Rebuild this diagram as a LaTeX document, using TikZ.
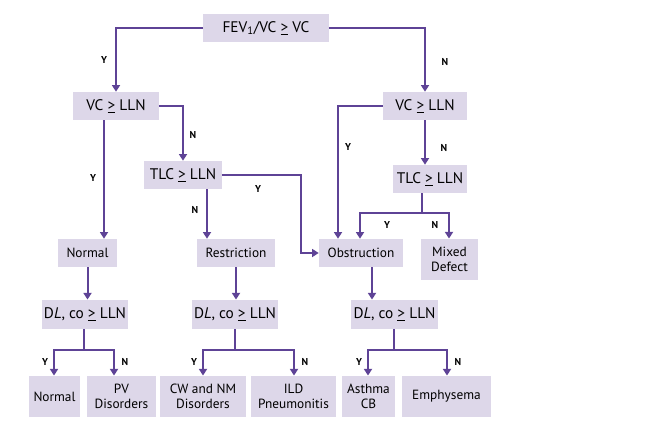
\documentclass[tikz,border=0pt]{standalone}
\usepackage{fontspec}
\setmainfont{PT Sans}
\usetikzlibrary{arrows.meta}
\definecolor{boxc}{HTML}{DDD7E9}
\definecolor{linec}{HTML}{5E4396}
\newcommand{\geu}{\underline{>}}
\begin{document}
\begin{tikzpicture}[x=0.75pt,y=-0.75pt,
  box/.style={fill=boxc,inner sep=1pt,align=center,font=\fontsize{10}{11}\selectfont},
  big/.style={box,font=\fontsize{11.5}{12}\selectfont},
  ln/.style={draw=linec,line width=1.5pt},
  ar/.style={ln,-{Triangle[length=5pt,width=6pt]}},
  lb/.style={font=\bfseries\fontsize{7.5}{8}\selectfont}]
\useasboundingbox (0,0) rectangle (656,442);
\node[big,minimum width=94pt,minimum height=21pt] (fev) at (266,28) {FEV\textsubscript{1}/VC \geu{} VC};
\node[big,minimum width=64pt,minimum height=21pt] (vcl) at (116,106) {VC \geu{} LLN};
\node[big,minimum width=58pt,minimum height=21pt] (tlcl) at (183,175) {TLC \geu{} LLN};
\node[big,minimum width=63pt,minimum height=21pt] (vcr) at (425,106) {VC \geu{} LLN};
\node[big,minimum width=56pt,minimum height=21pt] (tlcr) at (430,179) {TLC \geu{} LLN};
\node[box,minimum width=44pt,minimum height=21pt] (norm) at (87.5,253) {Normal};
\node[box,minimum width=58pt,minimum height=21pt] (res) at (236,253) {Restriction};
\node[box,minimum width=63pt,minimum height=21pt] (obs) at (361,253) {Obstruction};
\node[box,minimum width=43pt,minimum height=31pt] (mix) at (449.5,259.5) {Mixed\\Defect};
\node[big,minimum width=64pt,minimum height=22pt] (dl1) at (85,314.5) {D\textit{L}, co \geu{} LLN};
\node[big,minimum width=64pt,minimum height=22pt] (dl2) at (235,314.5) {D\textit{L}, co \geu{} LLN};
\node[big,minimum width=65pt,minimum height=22pt] (dl3) at (394.5,314.5) {D\textit{L}, co \geu{} LLN};
\node[box,minimum width=38pt,minimum height=31pt] (b1) at (54.5,396.5) {Normal};
\node[box,minimum width=52pt,minimum height=31pt] (b2) at (121.5,396.5) {PV\\Disorders};
\node[box,minimum width=64pt,minimum height=31pt] (b3) at (203,396.5) {CW and NM\\Disorders};
\node[box,minimum width=64pt,minimum height=31pt] (b4) at (293.5,396.5) {ILD\\Pneumonitis};
\node[box,minimum width=40pt,minimum height=31pt] (b5) at (368.5,396.5) {Asthma\\CB};
\node[box,minimum width=67pt,minimum height=31pt] (b6) at (446.5,396.5) {Emphysema};
% helper x-positions
\coordinate (x104) at (104,0);
\coordinate (x207) at (207,0);
\coordinate (x338) at (338,0);
\coordinate (x360) at (360,0);
\coordinate (x449) at (449,0);
\coordinate (x372) at (372,0);
% top
\draw[ar] (fev.west) -| (vcl.north);
\draw[ar] (fev.east) -| (vcr.north);
\node[lb] at (104,60) {Y};
\node[lb] at (445,62) {N};
% left VC
\draw[ar] (vcl.east) -| (tlcl.north);
\node[lb] at (193,135) {N};
\draw[ar] (vcl.south -| x104) -- (norm.north -| x104);
\node[lb] at (93,178) {Y};
% left TLC
\coordinate (t) at (301,253);
\draw[ar] (tlcl.east) -| (t) -- (obs.west);
\node[lb] at (258,189) {Y};
\draw[ar] (tlcl.south -| x207) -- (res.north -| x207);
\node[lb] at (195,210) {N};
% right VC
\draw[ar] (vcr.west) -| (obs.north -| x338);
\node[lb] at (348,147) {Y};
\draw[ar] (vcr.south) -- (tlcr.north -| vcr.south);
\node[lb] at (444,148) {N};
% right TLC
\coordinate (j) at (422,213);
\draw[ln] (tlcr.south -| j) -- (j);
\draw[ar] (j) -| (obs.north -| x360);
\draw[ar] (j) -| (mix.north -| x449);
\node[lb] at (387,225) {Y};
\node[lb] at (435,225) {N};
% to DL
\draw[ar] (norm.south) -- (dl1.north -| norm.south);
\draw[ar] (res.south) -- (dl2.north -| res.south);
\draw[ar] (obs.south -| x372) -- (dl3.north -| x372);
% DL splits
\foreach \d/\c/\l/\r/\ll/\rr in {dl1/84/b1/b2/54/114, dl2/235/b3/b4/203/294, dl3/394/b5/b6/368/447}{
  \coordinate (k) at (\c,350);
  \coordinate (kl) at (\ll,0);
  \coordinate (kr) at (\rr,0);
  \draw[ln] (\d.south -| k) -- (k);
  \draw[ar] (k) -| (\l.north -| kl);
  \draw[ar] (k) -| (\r.north -| kr);
  \node[lb] at (\ll-9,362) {Y};
  \node[lb] at (\rr+11,362) {N};
}
\end{tikzpicture}
\end{document}
